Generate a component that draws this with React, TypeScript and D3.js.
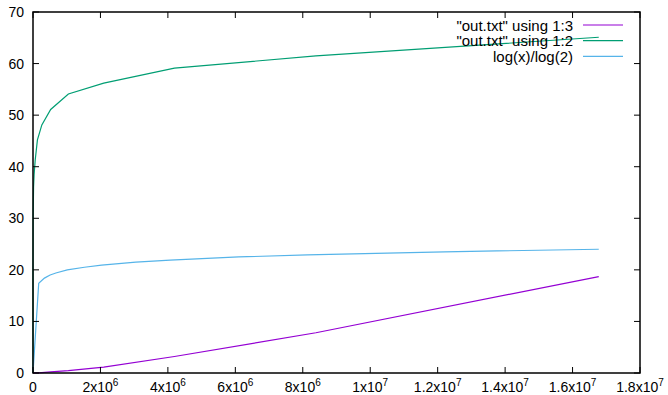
import * as d3 from 'd3'

const dataX = [1, 256, 4096, 16384, 32768, 65536, 131072, 262144, 524288, 1048576, 2097152, 4194304, 8388608, 16777216]
const col3 = [0, 0, 0, 0, 0, 0.01, 0.03, 0.08, 0.2, 0.45, 1.15, 3.2, 7.8, 18.7]
const col2 = [0, 20, 30, 36, 38.5, 41.3, 45.2, 48.1, 51.1, 54.1, 56.2, 59.1, 61.5, 65.1]

const logX = [1, 169467, 338933, 508400, 677866, 1016799, 1525198, 2033597, 3050395, 4067193, 6100790, 8134386, 12201579, 16777216]
const logY = [0, 17.4, 18.4, 19.0, 19.4, 20.0, 20.5, 20.9, 21.5, 21.9, 22.5, 22.9, 23.5, 24.0]

const yTicks = [0, 10, 20, 30, 40, 50, 60, 70]
const xTicks = [0, 2e6, 4e6, 6e6, 8e6, 1e7, 1.2e7, 1.4e7, 1.6e7, 1.8e7]
const xTickBase = ['0', '2x10', '4x10', '6x10', '8x10', '1x10', '1.2x10', '1.4x10', '1.6x10', '1.8x10']
const xTickExp = ['', '6', '6', '6', '6', '7', '7', '7', '7', '7']

const series = [
  { name: '"out.txt" using 1:3', xs: dataX, ys: col3, color: '#9400d3' },
  { name: '"out.txt" using 1:2', xs: dataX, ys: col2, color: '#009e73' },
  { name: 'log(x)/log(2)', xs: logX, ys: logY, color: '#56b4e9' },
]

const W = 668
const H = 395
const margin = { top: 12, right: 28, bottom: 22, left: 33 }
const font = '"Liberation Sans", Arial, Helvetica, sans-serif'

export default function App() {
  const x = d3.scaleLinear().domain([0, 1.8e7]).range([margin.left, W - margin.right])
  const y = d3.scaleLinear().domain([0, 70]).range([H - margin.bottom, margin.top])
  const [x0, x1] = x.range()
  const [y0, y1] = y.range()

  const line = d3.line<[number, number]>()
    .x(d => x(d[0]))
    .y(d => y(d[1]))

  return (
    <svg width={W} height={H} style={{ position: 'absolute', left: 0, top: 0, background: '#fff' }} fontFamily={font}>
      {/* series */}
      {series.map(s => (
        <path
          key={s.name}
          d={line(s.xs.map((v, i) => [v, s.ys[i]] as [number, number])) ?? ''}
          fill="none"
          stroke={s.color}
          strokeWidth={1.2}
        />
      ))}

      {/* y ticks, mirrored on the right */}
      {yTicks.map(t => (
        <g key={'y' + t}>
          <line x1={x0} x2={x0 + 6} y1={y(t)} y2={y(t)} stroke="#000" strokeWidth={1} />
          <line x1={x1} x2={x1 - 6} y1={y(t)} y2={y(t)} stroke="#000" strokeWidth={1} />
          <text x={x0 - 9} y={y(t) + 5} textAnchor="end" fontSize={14} fill="#000">{t}</text>
        </g>
      ))}

      {/* x ticks, mirrored on the top */}
      {xTicks.map((t, i) => (
        <g key={'x' + t}>
          <line x1={x(t)} x2={x(t)} y1={y0} y2={y0 - 6} stroke="#000" strokeWidth={1} />
          <line x1={x(t)} x2={x(t)} y1={y1} y2={y1 + 6} stroke="#000" strokeWidth={1} />
          <text x={x(t)} y={y0 + 19} textAnchor="middle" fontSize={14} fill="#000">
            {xTickBase[i]}
            {xTickExp[i] && <tspan fontSize={10} dy={-6}>{xTickExp[i]}</tspan>}
          </text>
        </g>
      ))}

      {/* frame */}
      <rect x={x0} y={y1} width={x1 - x0} height={y0 - y1} fill="none" stroke="#000" strokeWidth={1.5} />

      {/* legend */}
      {series.map((s, i) => (
        <g key={'lg' + s.name}>
          <text x={573} y={30.5 + i * 15.7} textAnchor="end" fontSize={15} fill="#000">{s.name}</text>
          <line x1={583} x2={623} y1={25 + i * 15.7} y2={25 + i * 15.7} stroke={s.color} strokeWidth={1.2} />
        </g>
      ))}
    </svg>
  )
}
